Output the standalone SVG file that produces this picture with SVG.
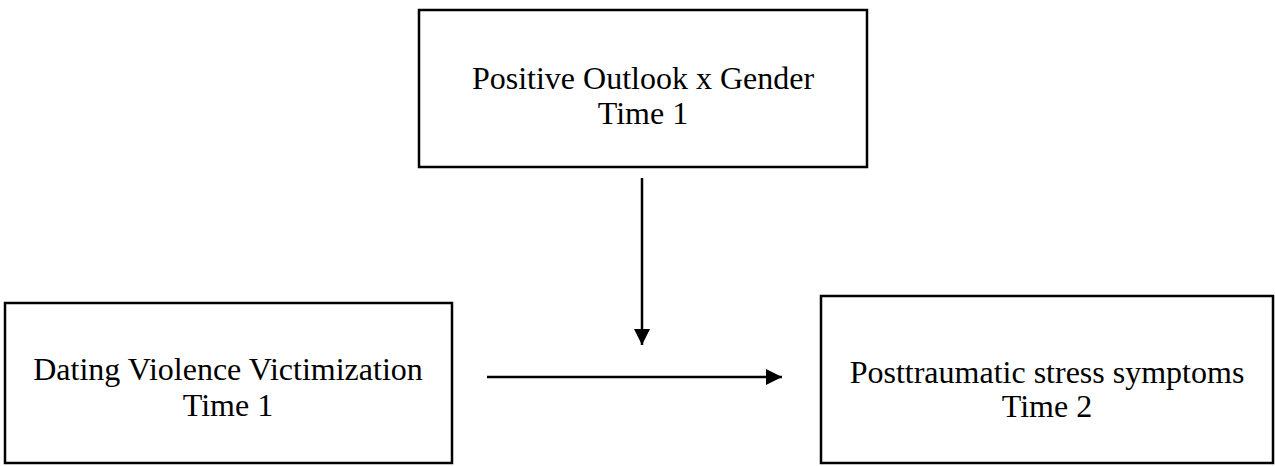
<svg xmlns="http://www.w3.org/2000/svg" width="1275" height="466" viewBox="0 0 1275 466">
<style>
.box{fill:#fff;stroke:#000;stroke-width:2.5}
.t{font-family:"Liberation Serif","Times New Roman",serif;font-size:32px;fill:#000;text-anchor:middle}
.c{stroke:#000;stroke-width:2.5;fill:none}
</style>
<defs>
<marker id="ah" viewBox="0 0 10 10" refX="10" refY="5" markerWidth="16" markerHeight="16" markerUnits="userSpaceOnUse" orient="auto">
<path d="M0,0 L10,5 L0,10 Z" fill="#000"/>
</marker>
</defs>
<rect width="1275" height="466" fill="#fff"/>
<g id="node-moderator">
<rect class="box" x="419" y="10" width="448" height="157"/>
<text class="t" x="643" y="89">Positive Outlook x Gender</text>
<text class="t" x="643" y="124">Time 1</text>
</g>
<g id="node-predictor">
<rect class="box" x="5" y="303" width="447" height="160"/>
<text class="t" x="228" y="380">Dating Violence Victimization</text>
<text class="t" x="228" y="416">Time 1</text>
</g>
<g id="node-outcome">
<rect class="box" x="821" y="296" width="452" height="167"/>
<text class="t" x="1047" y="383">Posttraumatic stress symptoms</text>
<text class="t" x="1047" y="417">Time 2</text>
</g>
<g id="connectors">
<line class="c" x1="642" y1="178" x2="642" y2="345" marker-end="url(#ah)"/>
<line class="c" x1="487" y1="377" x2="782" y2="377" marker-end="url(#ah)"/>
</g>
</svg>
